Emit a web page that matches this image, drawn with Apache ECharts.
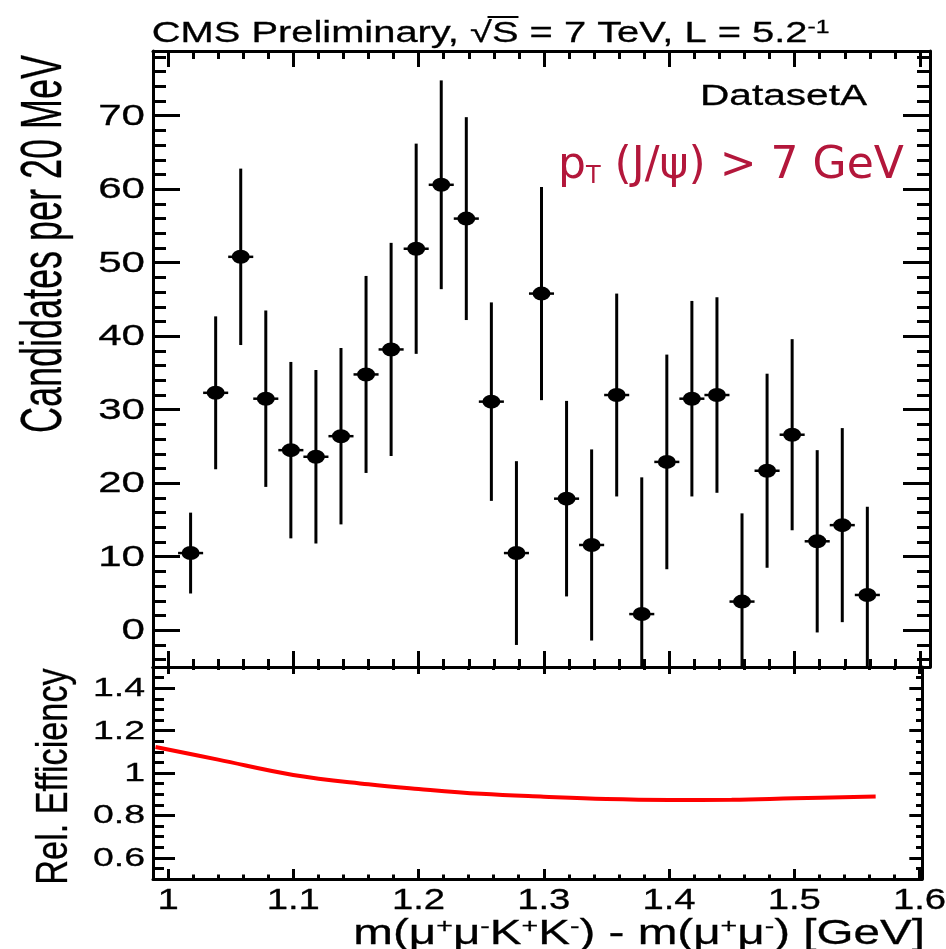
<!DOCTYPE html>
<html>
<head>
<meta charset="utf-8">
<title>CMS Preliminary - DatasetA</title>
<script src="https://cdn.jsdelivr.net/npm/echarts@6/dist/echarts.min.js"></script>
<style>
  html, body { margin: 0; padding: 0; background: #ffffff; }
  #chart { width: 946px; height: 949px; }
</style>
</head>
<body>
<div id="chart"></div>
<script>
// Bin centres of the 20 MeV mass-difference bins [GeV]
const binCenters = [1.018, 1.038, 1.058, 1.078, 1.098, 1.118, 1.138, 1.158, 1.178, 1.198,
                    1.218, 1.238, 1.258, 1.278, 1.298, 1.318, 1.338, 1.358, 1.378, 1.398,
                    1.418, 1.438, 1.458, 1.478, 1.498, 1.518, 1.538, 1.558];
// Candidates per bin and their (symmetric) uncertainties
const candidates = [10.5, 32.3, 50.8, 31.5, 24.5, 23.6, 26.4, 34.8, 38.2, 51.9,
                    60.6, 56.0, 31.1, 10.5, 45.8, 17.9, 11.6, 32.0, 2.2, 22.9,
                    31.5, 32.0, 3.9, 21.7, 26.6, 12.1, 14.3, 4.8];
const candidateErrors = [5.5, 10.4, 12.0, 12.0, 12.0, 11.8, 12.0, 13.4, 14.5, 14.3,
                         14.2, 13.8, 13.5, 12.5, 14.5, 13.3, 13.0, 13.8, 18.6, 14.6,
                         13.3, 13.3, 12.0, 13.2, 13.0, 12.4, 13.2, 12.0];
// Relative efficiency versus mass difference
const effMass  = [0.99, 1.04, 1.10, 1.16, 1.20, 1.25, 1.30, 1.35, 1.40, 1.45, 1.50, 1.565];
const effValue = [1.123, 1.063, 0.991, 0.947, 0.925, 0.902, 0.888, 0.877, 0.873, 0.874, 0.881, 0.889];

// Tick labels
const xTickValues = [1.0, 1.1, 1.2, 1.3, 1.4, 1.5, 1.6];
const xTickLabels = ['1', '1.1', '1.2', '1.3', '1.4', '1.5', '1.6'];
const yTickValuesTop = [0, 10, 20, 30, 40, 50, 60, 70];
const yTickLabelsTop = ['0', '10', '20', '30', '40', '50', '60', '70'];
const yTickValuesLow = [0.6, 0.8, 1.0, 1.2, 1.4];
const yTickLabelsLow = ['0.6', '0.8', '1', '1.2', '1.4'];

// Axis ranges
const X_RANGE_TOP = [0.988, 1.608];
const X_RANGE_LOW = [0.988, 1.602];
const Y_RANGE_TOP = [-5, 78.8];
const Y_RANGE_LOW = [0.5, 1.5];
const HALF_BIN = 0.01;

const FONT = '"Liberation Sans", Arial, Helvetica, sans-serif';
const BLACK = '#000000';
const TEXT_STROKE = 0.3;   // slight emboldening of the Helvetica-like glyphs

function frameAxis(gridIndex, position, range, splitNumber, minorSplit, tickLen, minorLen) {
  return {
    type: 'value', gridIndex, position, min: range[0], max: range[1], splitNumber,
    axisLine: { show: true, onZero: false, lineStyle: { color: BLACK, width: 3 } },
    axisTick: { show: true, inside: true, length: tickLen, lineStyle: { color: BLACK, width: 3 } },
    minorTick: { show: true, splitNumber: minorSplit, length: minorLen, lineStyle: { color: BLACK, width: 3 } },
    axisLabel: { show: false },
    splitLine: { show: false },
    minorSplitLine: { show: false }
  };
}

const chart = echarts.init(document.getElementById('chart'), null, { renderer: 'canvas' });

const option = {
  backgroundColor: '#ffffff',
  animation: false,
  grid: [
    { left: 153, top: 51, width: 777, height: 616, outerBoundsMode: 'none' },
    { left: 153, top: 667, width: 769, height: 212, outerBoundsMode: 'none' }
  ],
  xAxis: [
    frameAxis(0, 'bottom', X_RANGE_TOP, 6, 5, 16, 8),
    frameAxis(0, 'top', X_RANGE_TOP, 6, 5, 16, 8),
    frameAxis(1, 'bottom', X_RANGE_LOW, 6, 5, 10, 4.5),
    frameAxis(1, 'top', X_RANGE_LOW, 6, 5, 7, 3)
  ],
  yAxis: [
    frameAxis(0, 'left', Y_RANGE_TOP, 8, 5, 27, 13),
    frameAxis(0, 'right', Y_RANGE_TOP, 8, 5, 27, 13),
    frameAxis(1, 'left', Y_RANGE_LOW, 5, 4, 22, 11),
    frameAxis(1, 'right', Y_RANGE_LOW, 5, 4, 12.7, 6)
  ],
  series: [
    {
      // vertical error bars and horizontal bin-width bars
      type: 'custom',
      xAxisIndex: 0, yAxisIndex: 0,
      silent: true,
      data: binCenters.map((x, i) => [x, candidates[i], candidateErrors[i]]),
      encode: { x: 0, y: 1 },
      renderItem(params, api) {
        const x = api.value(0), y = api.value(1), e = api.value(2);
        const lo = api.coord([x, Math.max(y - e, Y_RANGE_TOP[0])]);
        const hi = api.coord([x, Math.min(y + e, Y_RANGE_TOP[1])]);
        const l = api.coord([x - HALF_BIN, y]);
        const r = api.coord([x + HALF_BIN, y]);
        return {
          type: 'group',
          children: [
            { type: 'line', shape: { x1: lo[0], y1: lo[1], x2: hi[0], y2: hi[1] }, style: { stroke: BLACK, lineWidth: 3 } },
            { type: 'line', shape: { x1: l[0], y1: l[1], x2: r[0], y2: r[1] }, style: { stroke: BLACK, lineWidth: 2.5 } }
          ]
        };
      }
    },
    {
      type: 'scatter',
      xAxisIndex: 0, yAxisIndex: 0,
      silent: true,
      symbol: 'circle',
      symbolSize: [18, 14],
      itemStyle: { color: BLACK, opacity: 1 },
      data: binCenters.map((x, i) => [x, candidates[i]])
    },
    {
      type: 'line',
      xAxisIndex: 2, yAxisIndex: 2,
      silent: true,
      smooth: 0.4,
      showSymbol: false,
      symbol: 'none',
      lineStyle: { color: '#ff0000', width: 4 },
      data: effMass.map((x, i) => [x, effValue[i]])
    }
  ]
};

chart.setOption(option);

// Text elements (stretched horizontally like the original plot style)
const measureCtx = document.createElement('canvas').getContext('2d');
function textWidth(str, size) {
  measureCtx.font = size + 'px ' + FONT;
  return measureCtx.measureText(str).width;
}

function label(x, y, text, size, scaleX, align, vAlign) {
  return {
    type: 'text', x, y, scaleX, silent: true, z: 100,
    style: { text, fontSize: size, fontFamily: FONT, fill: BLACK, stroke: BLACK, lineWidth: TEXT_STROKE, align, verticalAlign: vAlign }
  };
}

const elements = [];

yTickValuesTop.forEach((v, i) => {
  const py = chart.convertToPixel({ yAxisIndex: 0 }, v);
  elements.push(label(145, py + 1, yTickLabelsTop[i], 29, 1.45, 'right', 'middle'));
});
yTickValuesLow.forEach((v, i) => {
  const py = chart.convertToPixel({ yAxisIndex: 2 }, v);
  elements.push(label(145, py + 1, yTickLabelsLow[i], 25.5, 1.47, 'right', 'middle'));
});
xTickValues.forEach((v, i) => {
  const px = chart.convertToPixel({ xAxisIndex: 2 }, v);
  elements.push(label(px, 901, xTickLabels[i], 29, 1.32, 'center', 'middle'));
});

// Axis titles
elements.push({
  type: 'text', x: 45, y: 244, rotation: Math.PI / 2, scaleX: 0.62, silent: true, z: 100,
  style: { text: 'Candidates per 20 MeV', fontSize: 58, fontFamily: FONT, fill: BLACK, stroke: BLACK, lineWidth: TEXT_STROKE, align: 'center', verticalAlign: 'middle' }
});
elements.push({
  type: 'text', x: 54.6, y: 776.5, rotation: Math.PI / 2, scaleX: 0.778, silent: true, z: 100,
  style: { text: 'Rel. Efficiency', fontSize: 44, fontFamily: FONT, fill: BLACK, stroke: BLACK, lineWidth: TEXT_STROKE, align: 'center', verticalAlign: 'middle' }
});
elements.push({
  type: 'text', x: 925, y: 934, scaleX: 1.36, silent: true, z: 100,
  style: {
    text: '{n|m(μ}{u|+}{n|μ}{u|-}{n|K}{u|+}{n|K}{u|-}{n|) - m(μ}{u|+}{n|μ}{u|-}{n|) [GeV]}',
    align: 'right', verticalAlign: 'middle', fill: BLACK, fontFamily: FONT,
    rich: {
      n: { fontSize: 35, fontFamily: FONT, fill: BLACK, stroke: BLACK, lineWidth: TEXT_STROKE },
      u: { fontSize: 21, fontFamily: FONT, fill: BLACK, stroke: BLACK, lineWidth: TEXT_STROKE, verticalAlign: 'top' }
    }
  }
});

// Header
const TITLE_X = 151.7, TITLE_SIZE = 29, TITLE_SCALE = 1.375;
elements.push({
  type: 'text', x: TITLE_X, y: 33.7, scaleX: TITLE_SCALE, silent: true, z: 100,
  style: {
    text: '{n|CMS Preliminary, √S = 7 TeV, L = 5.2}{u|-1}',
    align: 'left', verticalAlign: 'middle', fill: BLACK, fontFamily: FONT,
    rich: {
      n: { fontSize: TITLE_SIZE, fontFamily: FONT, fill: BLACK, stroke: BLACK, lineWidth: TEXT_STROKE },
      u: { fontSize: 18, fontFamily: FONT, fill: BLACK, stroke: BLACK, lineWidth: TEXT_STROKE, verticalAlign: 'top' }
    }
  }
});
// overline of the square root
const sqrtStart = TITLE_X + TITLE_SCALE * textWidth('CMS Preliminary, ', TITLE_SIZE);
const sqrtW = TITLE_SCALE * textWidth('√', TITLE_SIZE);
const sW = TITLE_SCALE * textWidth('S', TITLE_SIZE);
elements.push({
  type: 'line', silent: true, z: 100,
  shape: { x1: sqrtStart + sqrtW * 0.8, y1: 17, x2: sqrtStart + sqrtW + sW, y2: 17 },
  style: { stroke: BLACK, lineWidth: 2 }
});

// Annotations
elements.push({
  type: 'text', x: 700, y: 97, scaleX: 1.4, silent: true, z: 100,
  style: { text: 'DatasetA', fontSize: 29, fontFamily: FONT, fill: BLACK, stroke: BLACK, lineWidth: TEXT_STROKE, align: 'left', verticalAlign: 'middle' }
});
const RED = '#b3173b';
const RED_FONT = '"DejaVu Sans", sans-serif';
elements.push({
  type: 'text', x: 558, y: 167, silent: true, z: 100,
  style: {
    text: '{n|p}{t|T}{n| (J/ψ) > 7 GeV}',
    align: 'left', verticalAlign: 'middle', fill: RED, fontFamily: RED_FONT,
    rich: {
      n: { fontSize: 44, fontFamily: RED_FONT, fill: RED },
      t: { fontSize: 24, lineHeight: 40, fontFamily: RED_FONT, fill: RED, verticalAlign: 'bottom' }
    }
  }
});

chart.setOption({ graphic: { elements } });
</script>
</body>
</html>
